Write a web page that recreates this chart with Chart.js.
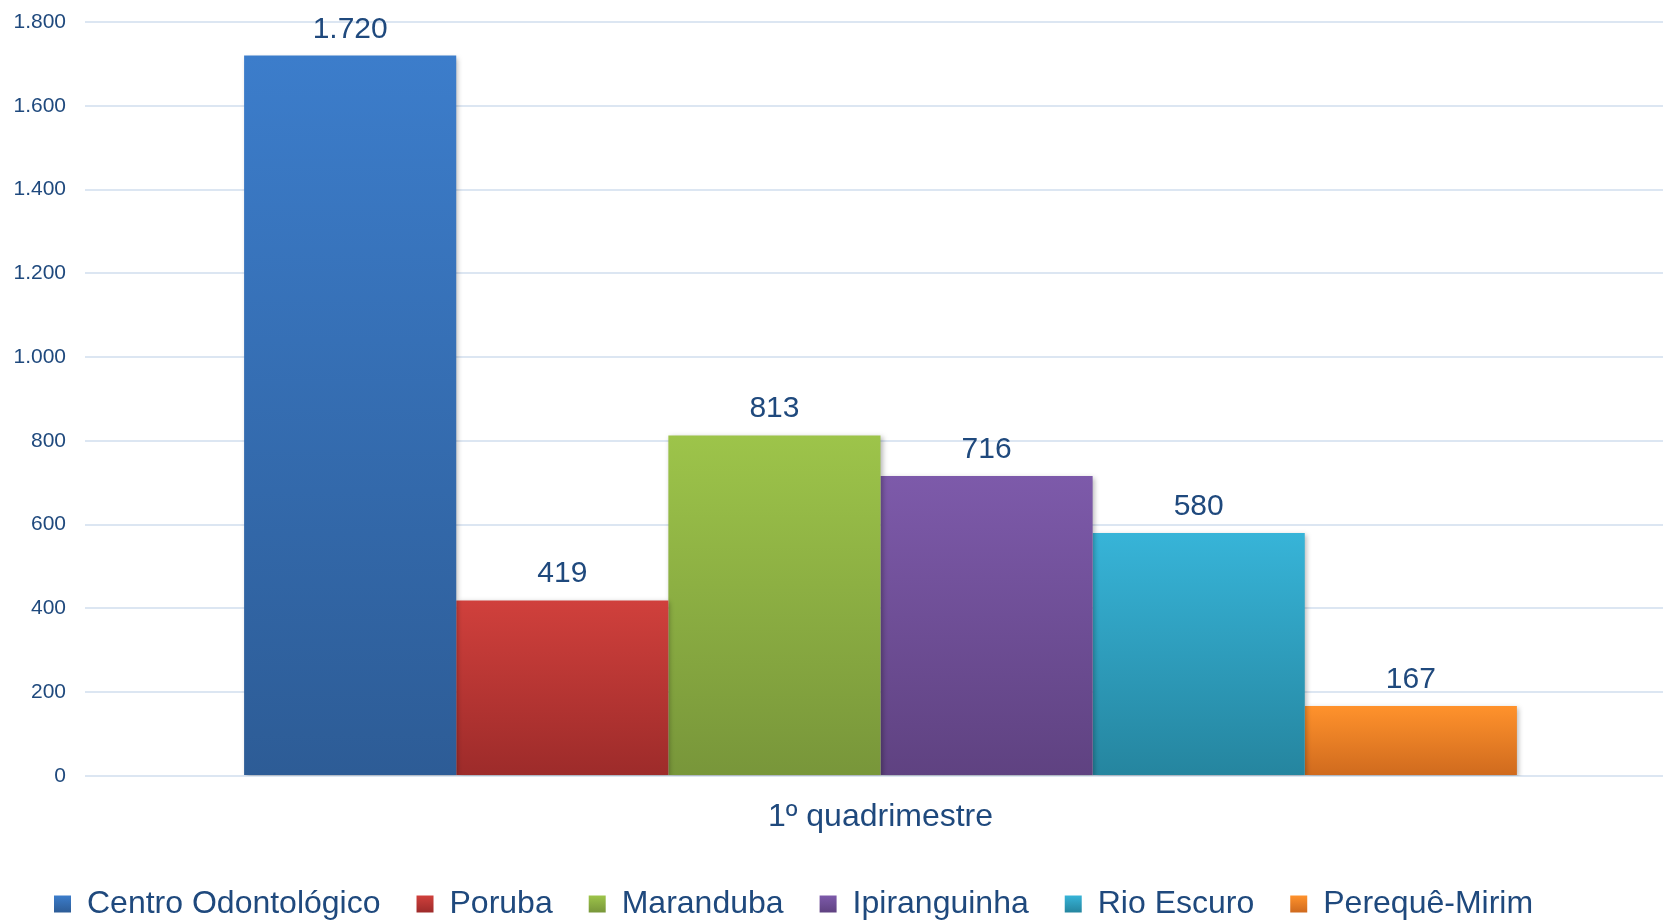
<!DOCTYPE html>
<html>
<head>
<meta charset="utf-8">
<script src="https://cdn.jsdelivr.net/npm/chart.js@4/dist/chart.umd.min.js"></script>
<style>
  html, body { margin: 0; padding: 0; background: #ffffff; overflow: hidden; }
  #wrap { position: relative; width: 1676px; height: 930px; }
</style>
</head>
<body>
<div id="wrap"><canvas id="c"></canvas></div>
<script>
const categories = ['1º quadrimestre'];
const seriesNames = ['Centro Odontológico', 'Poruba', 'Maranduba', 'Ipiranguinha', 'Rio Escuro', 'Perequê-Mirim'];
const seriesValues = [1720, 419, 813, 716, 580, 167];
const colorTop = ['#3C7DCB', '#D0403C', '#9DC44A', '#7D5AAA', '#37B4D8', '#FF922C'];
const colorBottom = ['#2D5C96', '#9D2B2A', '#78963A', '#5F4281', '#25859F', '#CF6A1E'];
const yTicks = [0, 200, 400, 600, 800, 1000, 1200, 1400, 1600, 1800];

const TEXT = '#1F497D';
const FONT = "'Liberation Sans', Arial, sans-serif";
const LEGEND_FONT = 32;
const LEGEND_BOX = 17;
const LEGEND_PAD = 36;

function fmt(v) {
  return String(v).replace(/\B(?=(\d{3})+(?!\d))/g, '.');
}

function gradFor(i) {
  return function (ctx) {
    const chart = ctx.chart;
    const area = chart.chartArea;
    if (!area || !chart.scales.y) return colorTop[i];
    const y = chart.scales.y;
    const top = y.getPixelForValue(seriesValues[i]);
    const bot = y.getPixelForValue(0);
    const g = chart.ctx.createLinearGradient(0, top, 0, bot);
    g.addColorStop(0, colorTop[i]);
    g.addColorStop(1, colorBottom[i]);
    return g;
  };
}

const datasets = seriesNames.map((name, i) => ({
  label: name,
  data: [seriesValues[i]],
  backgroundColor: gradFor(i),
  borderWidth: 0,
  barPercentage: 1.0,
  categoryPercentage: 0.8
}));

const shadowPlugin = {
  id: 'barShadow',
  beforeDatasetsDraw(chart) {
    const c = chart.ctx;
    c.save();
    c.shadowColor = 'rgba(0,0,0,0.28)';
    c.shadowBlur = 5;
    c.shadowOffsetX = 2;
    c.shadowOffsetY = 2;
  },
  afterDatasetsDraw(chart) {
    chart.ctx.restore();
  }
};

const labelPlugin = {
  id: 'valueLabels',
  afterDatasetsDraw(chart) {
    const c = chart.ctx;
    c.save();
    c.font = '30px ' + FONT;
    c.fillStyle = TEXT;
    c.textAlign = 'center';
    c.textBaseline = 'alphabetic';
    chart.data.datasets.forEach((ds, i) => {
      const meta = chart.getDatasetMeta(i);
      meta.data.forEach((bar, j) => {
        c.fillText(fmt(ds.data[j]), bar.x, bar.y - 18);
      });
    });
    c.restore();
  }
};

const legendTweak = {
  id: 'legendTweak',
  afterLayout(chart) {
    if (chart.legend) {
      chart.legend.left += 18;
      chart.legend.right += 18;
    }
  },
  afterUpdate(chart) {
    const lg = chart.legend;
    if (!lg || !lg.legendItems) return;
    const boxTop = lg.top + LEGEND_PAD + Math.max((LEGEND_FONT - LEGEND_BOX) / 2, 0);
    lg.legendItems.forEach((item) => {
      const i = item.datasetIndex;
      const g = chart.ctx.createLinearGradient(0, boxTop, 0, boxTop + LEGEND_BOX);
      g.addColorStop(0, colorTop[i]);
      g.addColorStop(1, colorBottom[i]);
      item.fillStyle = g;
    });
  }
};

new Chart(document.getElementById('c'), {
  type: 'bar',
  data: { labels: categories, datasets: datasets },
  plugins: [shadowPlugin, labelPlugin, legendTweak],
  options: {
    responsive: true,
    maintainAspectRatio: false,
    devicePixelRatio: 1,
    animation: false,
    layout: { padding: { top: 22, left: 0, right: 0, bottom: 0 } },
    plugins: {
      tooltip: { enabled: false },
      legend: {
        position: 'bottom',
        align: 'start',
        labels: {
          boxWidth: LEGEND_BOX,
          boxHeight: LEGEND_BOX,
          padding: LEGEND_PAD,
          color: TEXT,
          font: { size: LEGEND_FONT, family: FONT }
        }
      }
    },
    scales: {
      x: {
        grid: { display: false, drawTicks: false },
        border: { display: false },
        ticks: { color: TEXT, font: { size: 32, family: FONT }, padding: 22 },
        afterFit(scale) { scale.height = 76; }
      },
      y: {
        min: 0,
        max: 1800,
        afterBuildTicks(scale) { scale.ticks = yTicks.map(v => ({ value: v })); },
        grid: { color: '#DCE6F2', lineWidth: 2, drawTicks: false },
        border: { display: false },
        ticks: {
          color: TEXT,
          font: { size: 21, family: FONT },
          padding: 19,
          callback: (v) => fmt(v)
        },
        afterFit(scale) {
          scale.width = 85;
          scale.paddingTop = 0;
          scale.paddingBottom = 0;
        }
      }
    }
  }
});
</script>
</body>
</html>
